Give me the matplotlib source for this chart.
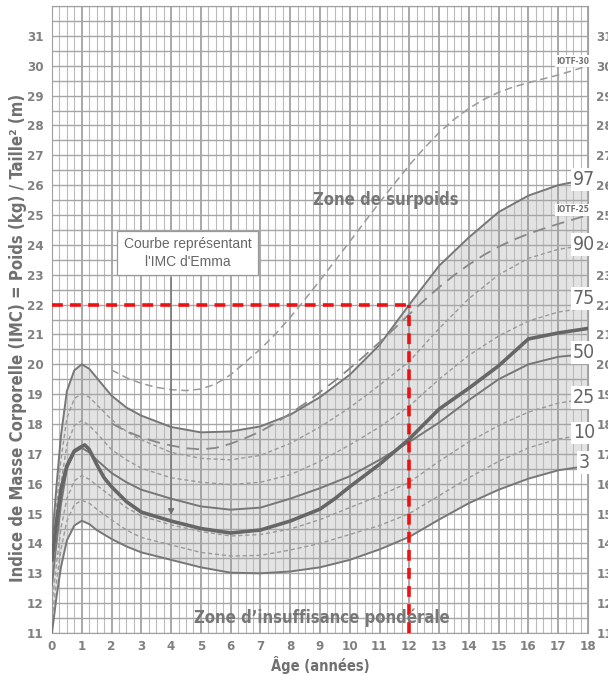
import matplotlib.pyplot as plt
from matplotlib.ticker import MultipleLocator

plt.rcParams['font.family'] = ['Liberation Sans Narrow', 'DejaVu Sans']
plt.rcParams['font.stretch'] = 'condensed'

# reference curves (percentiles), girls
ages = [0, 0.15, 0.3, 0.5, 0.75, 1, 1.25, 1.5, 2, 2.5, 3, 4, 5, 6, 7, 8, 9,
        10, 11, 12, 13, 14, 15, 16, 17, 18]
p97 = [14.0, 15.9, 17.6, 19.1, 19.8, 20.0, 19.85, 19.55, 18.95, 18.55, 18.28, 17.9,
       17.72, 17.75, 17.92, 18.31, 18.9, 19.65, 20.65, 22.0, 23.3, 24.25, 25.1,
       25.65, 26.0, 26.2]
p90 = [13.6, 15.2, 16.8, 18.2, 18.85, 19.02, 18.9, 18.65, 18.15, 17.75, 17.47, 17.05,
       16.85, 16.8, 16.95, 17.35, 17.9, 18.55, 19.3, 20.1, 21.2, 22.2, 23.0,
       23.55, 23.85, 24.0]
p75 = [13.1, 14.6, 16.0, 17.3, 17.95, 18.12, 17.95, 17.7, 17.14, 16.8, 16.52, 16.2,
       16.05, 15.97, 16.05, 16.3, 16.75, 17.3, 17.9, 18.6, 19.5, 20.3, 20.95,
       21.45, 21.75, 21.9]
p50 = [12.6, 14.0, 15.3, 16.5, 17.05, 17.2, 17.05, 16.8, 16.36, 16.05, 15.8, 15.5,
       15.24, 15.13, 15.2, 15.5, 15.85, 16.25, 16.8, 17.4, 18.05, 18.8, 19.5,
       20.0, 20.25, 20.35]
p25 = [12.0, 13.3, 14.5, 15.5, 16.1, 16.27, 16.15, 15.95, 15.57, 15.2, 14.92, 14.62,
       14.4, 14.25, 14.3, 14.48, 14.8, 15.2, 15.6, 16.05, 16.75, 17.4, 17.95,
       18.4, 18.7, 18.85]
p10 = [11.5, 12.7, 13.8, 14.75, 15.3, 15.44, 15.35, 15.15, 14.79, 14.45, 14.2, 13.95,
       13.7, 13.58, 13.6, 13.78, 14.0, 14.3, 14.6, 15.0, 15.6, 16.2, 16.75,
       17.2, 17.5, 17.65]
p3 = [11.0, 12.2, 13.2, 14.1, 14.6, 14.76, 14.65, 14.45, 14.15, 13.9, 13.7, 13.45,
      13.2, 13.02, 13.0, 13.06, 13.2, 13.45, 13.8, 14.22, 14.8, 15.35, 15.8,
      16.17, 16.45, 16.6]

# IOTF cut-offs
iotf_ages = [2, 2.5, 3, 3.5, 4, 4.5, 5, 5.5, 6, 6.5, 7, 7.5, 8, 8.5, 9, 9.5, 10,
             10.5, 11, 11.5, 12, 12.5, 13, 13.5, 14, 14.5, 15, 15.5, 16, 16.5,
             17, 17.5, 18]
iotf25 = [18.02, 17.76, 17.56, 17.40, 17.28, 17.19, 17.15, 17.20, 17.34, 17.53,
          17.75, 18.03, 18.35, 18.69, 19.07, 19.45, 19.86, 20.29, 20.74, 21.20,
          21.68, 22.14, 22.58, 22.98, 23.34, 23.66, 23.94, 24.17, 24.37, 24.54,
          24.70, 24.85, 25.0]
iotf30 = [19.81, 19.55, 19.36, 19.23, 19.15, 19.12, 19.17, 19.34, 19.65, 20.08,
          20.51, 21.01, 21.57, 22.18, 22.81, 23.46, 24.11, 24.77, 25.42, 26.05,
          26.67, 27.24, 27.76, 28.20, 28.57, 28.87, 29.11, 29.29, 29.43, 29.56,
          29.69, 29.84, 30.0]

# Emma
emma_age = [0, 0.15, 0.3, 0.5, 0.75, 1, 1.1, 1.25, 1.5, 1.75, 2, 2.5, 3, 3.5, 4,
            5, 6, 7, 8, 8.5, 9, 9.5, 10, 11, 12, 13, 14, 15, 15.5, 16, 16.5, 17, 18]
emma = [13.45, 14.7, 15.8, 16.6, 17.1, 17.25, 17.3, 17.15, 16.65, 16.2, 15.9, 15.4,
        15.05, 14.9, 14.75, 14.5, 14.35, 14.45, 14.75, 14.95, 15.15, 15.5, 15.9,
        16.65, 17.5, 18.5, 19.2, 19.95, 20.4, 20.85, 20.95, 21.05, 21.2]

labels = ["97", "90", "75", "50", "25", "10", "3"]
label_y = [26.2, 24.0, 22.2, 20.4, 18.9, 17.7, 16.7]

grey = '#707070'

fig = plt.figure(figsize=(6.08, 6.75), dpi=100)
ax = fig.add_axes([0.0855, 0.0622, 0.8816, 0.9289])

ax.fill_between(ages, p3, p97, color='#e3e3e3', lw=0, zorder=0.2)

ax.set_axisbelow(True)
ax.set_xlim(0, 18)
ax.set_ylim(11, 32)
ax.set_xticks(range(0, 19))
ax.set_yticks(range(11, 32))
ax.xaxis.set_minor_locator(MultipleLocator(0.25))
ax.yaxis.set_minor_locator(MultipleLocator(0.5))
ax.xaxis.grid(True, which='major', color='#999999', lw=1.2)
ax.xaxis.grid(True, which='minor', color='#bbbbbb', lw=0.8)
ax.yaxis.grid(True, which='both', color='#a6a6a6', lw=1.0)
ax.tick_params(which='both', length=0)
ax.tick_params(axis='y', labelright=True, pad=6)
ax.tick_params(axis='x', pad=5)
ax.tick_params(labelsize=9.5, labelcolor='#808080')
for lbl in ax.get_xticklabels() + ax.get_yticklabels():
    lbl.set_fontweight('bold')
for sp in ax.spines.values():
    sp.set_color('#a0a0a0')

# percentile curves
ax.plot(ages, p97, color='#777777', lw=1.4, zorder=3)
ax.plot(ages, p50, color='#777777', lw=1.4, zorder=3)
ax.plot(ages, p3, color='#777777', lw=1.4, zorder=3)
for p in [p90, p75, p25, p10]:
    ax.plot(ages, p, color='#9a9a9a', lw=1.0, ls=(0, (3, 2)), zorder=3)
ax.plot(iotf_ages, iotf25, color='#888888', lw=1.3, ls=(0, (7, 4)), zorder=3)
ax.plot(iotf_ages, iotf30, color='#9a9a9a', lw=1.1, ls=(0, (5, 3)), zorder=3)

ax.plot(emma_age, emma, color='#666666', lw=2.6, zorder=4)

# red reading lines
ax.plot([0, 12], [22, 22], color='#ee1111', lw=2.6, ls=(0, (3, 2)), zorder=5,
        clip_on=False)
ax.plot([12, 12], [11, 22], color='#ee1111', lw=2.6, ls=(0, (3, 2)), zorder=5,
        clip_on=False)

for t, y in zip(labels, label_y):
    ax.text(17.87, y, t, fontsize=14, color='#666666', ha='center', va='center',
            zorder=6, bbox=dict(boxstyle='square,pad=0.1', fc='white', ec='none'))
ax.text(17.5, 30.15, "IOTF-30", fontsize=6, fontweight='bold', color='#707070',
        ha='center', va='center', zorder=6,
        bbox=dict(boxstyle='square,pad=0.15', fc='white', ec='none'))
ax.text(17.5, 25.17, "IOTF-25", fontsize=6, fontweight='bold', color='#707070',
        ha='center', va='center', zorder=6,
        bbox=dict(boxstyle='square,pad=0.15', fc='white', ec='none'))

ax.text(11.2, 25.5, "Zone de surpoids", fontsize=12, fontweight='bold',
        color='#777777', ha='center', va='center', zorder=6)
ax.text(9.05, 11.5, "Zone d\u2019insuffisance pondérale", fontsize=12,
        fontweight='bold', color='#777777', ha='center', va='center', zorder=6)

ax.text(4.55, 23.73, "Courbe représentant\nl'IMC d'Emma", fontsize=10,
        family=['Liberation Sans', 'DejaVu Sans'], stretch='normal',
        color='#666666', ha='center', va='center', linespacing=1.35, zorder=7,
        bbox=dict(boxstyle='square,pad=0.45', fc='white', ec='#999999', lw=0.9))
ax.annotate("", xy=(4, 14.95), xytext=(4, 22.9), zorder=6,
            arrowprops=dict(arrowstyle='-|>', color='#707070', lw=0.9,
                            mutation_scale=9, shrinkA=0, shrinkB=0))

ax.set_xlabel("Âge (années)", fontsize=10.5, fontweight='bold', color=grey,
              labelpad=2)
fig.text(0.029, 0.5, "Indice de Masse Corporelle (IMC) = Poids (kg) / Taille² (m)",
         rotation=90, fontsize=12, fontweight='bold', color=grey,
         ha='center', va='center')

fig.savefig("out.png", dpi=100)
